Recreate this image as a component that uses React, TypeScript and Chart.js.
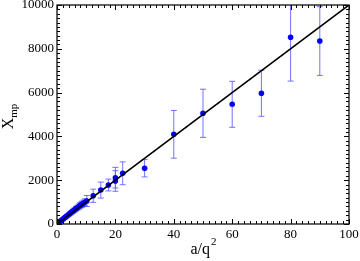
import React, { useEffect, useRef } from "react";
import { Chart, registerables } from "chart.js";

Chart.register(...registerables);

// a/q^2 values
const xValues = [0.5, 1, 1.5, 2, 2.5, 3, 3.5, 4, 4.5, 5, 5.5, 6, 6.5, 7, 7.5, 8, 8.5, 9, 9.5, 10.2, 12.4, 15, 17.6, 20, 20, 22.5, 30, 40, 50, 60, 70, 80, 90];
// X_mp values
const yValues = [55, 110, 165, 220, 270, 325, 380, 430, 485, 540, 590, 640, 700, 745, 800, 850, 895, 940, 990, 1050, 1290, 1550, 1780, 2115, 1965, 2315, 2545, 4095, 5055, 5465, 5970, 8525, 8355];
// error bar half-widths
const yErrors = [12, 22, 30, 38, 45, 52, 60, 68, 75, 85, 90, 100, 105, 110, 120, 130, 140, 150, 160, 250, 300, 365, 270, 470, 470, 520, 395, 1090, 1100, 1050, 1050, 2000, 1570];
// fitted line endpoints
const lineX = [0, 100];
const lineY = [0, 10000];

const xTickLabels = ["0", "20", "40", "60", "80", "100"];
const yTickLabels = ["0", "2000", "4000", "6000", "8000", "10000"];

const FONT = "'Liberation Serif', 'DejaVu Serif', serif";

const errorBarPlugin = {
  id: "errorBars",
  beforeDatasetsDraw(chart: any) {
    const { ctx, scales, chartArea } = chart;
    const xs = scales.x;
    const ys = scales.y;
    ctx.save();
    ctx.beginPath();
    ctx.rect(chartArea.left, chartArea.top, chartArea.right - chartArea.left, chartArea.bottom - chartArea.top);
    ctx.clip();
    ctx.strokeStyle = "rgba(90,90,255,0.85)";
    ctx.lineWidth = 1;
    for (let i = 0; i < xValues.length; i++) {
      const px = xs.getPixelForValue(xValues[i]);
      const top = ys.getPixelForValue(yValues[i] + yErrors[i]);
      const bot = ys.getPixelForValue(yValues[i] - yErrors[i]);
      ctx.beginPath();
      ctx.moveTo(px, top);
      ctx.lineTo(px, bot);
      ctx.moveTo(px - 3, top);
      ctx.lineTo(px + 3, top);
      ctx.moveTo(px - 3, bot);
      ctx.lineTo(px + 3, bot);
      ctx.stroke();
    }
    ctx.restore();
  },
};

const framePlugin = {
  id: "frame",
  afterDraw(chart: any) {
    const { ctx, scales, chartArea } = chart;
    const xs = scales.x;
    const ys = scales.y;
    const { left, right, top, bottom } = chartArea;
    ctx.save();
    ctx.strokeStyle = "#000";
    ctx.lineWidth = 1;
    for (let v = 0; v <= 100; v += 2) {
      const px = Math.round(xs.getPixelForValue(v)) + 0.5;
      const len = v % 20 === 0 ? 5 : 3;
      ctx.beginPath();
      ctx.moveTo(px, bottom);
      ctx.lineTo(px, bottom - len);
      ctx.moveTo(px, top);
      ctx.lineTo(px, top + len);
      ctx.stroke();
    }
    for (let v = 0; v <= 10000; v += 200) {
      const py = Math.round(ys.getPixelForValue(v)) + 0.5;
      const len = v % 2000 === 0 ? 5 : 3;
      ctx.beginPath();
      ctx.moveTo(left, py);
      ctx.lineTo(left + len, py);
      ctx.moveTo(right, py);
      ctx.lineTo(right - len, py);
      ctx.stroke();
    }
    ctx.lineWidth = 1.3;
    ctx.strokeStyle = "#111";
    ctx.strokeRect(left, top, right - left, bottom - top);

    ctx.fillStyle = "#000";
    ctx.textBaseline = "alphabetic";
    ctx.font = `16px ${FONT}`;
    const main = "a/q";
    const wMain = ctx.measureText(main).width;
    ctx.font = `11px ${FONT}`;
    const wSup = ctx.measureText("2").width;
    const cx = (left + right) / 2;
    const startX = cx - (wMain + wSup) / 2;
    ctx.font = `16px ${FONT}`;
    ctx.textAlign = "left";
    ctx.fillText(main, startX, 254);
    ctx.font = `11px ${FONT}`;
    ctx.fillText("2", startX + wMain + 1, 245);

    ctx.save();
    ctx.translate(13, (top + bottom) / 2 + 2);
    ctx.rotate(-Math.PI / 2);
    ctx.font = `16px ${FONT}`;
    const wX = ctx.measureText("X").width;
    ctx.font = `11px ${FONT}`;
    const wMp = ctx.measureText("mp").width;
    const sx = -(wX + wMp) / 2;
    ctx.font = `16px ${FONT}`;
    ctx.fillText("X", sx, 0);
    ctx.font = `11px ${FONT}`;
    ctx.fillText("mp", sx + wX, 4);
    ctx.restore();
    ctx.restore();
  },
};

export default function App() {
  const canvasRef = useRef<HTMLCanvasElement | null>(null);

  useEffect(() => {
    if (!canvasRef.current) return;
    const chart = new Chart(canvasRef.current, {
      type: "scatter",
      data: {
        datasets: [
          {
            type: "line",
            data: lineX.map((x, i) => ({ x, y: lineY[i] })),
            borderColor: "#000",
            borderWidth: 1.6,
            pointRadius: 0,
            fill: false,
          } as any,
          {
            data: xValues.map((x, i) => ({ x, y: yValues[i] })),
            backgroundColor: "#0000ff",
            borderColor: "#0000ff",
            pointRadius: 2.8,
            borderWidth: 0,
          },
        ],
      },
      options: {
        animation: false,
        responsive: true,
        maintainAspectRatio: false,
        layout: { padding: { top: 5, right: 11, left: 0, bottom: 0 } },
        plugins: { legend: { display: false }, tooltip: { enabled: false } },
        scales: {
          x: {
            type: "linear",
            min: 0,
            max: 100,
            grid: { display: false, drawTicks: false },
            border: { display: false },
            ticks: {
              stepSize: 20,
              padding: 3,
              color: "#000",
              font: { family: FONT, size: 13 },
              maxRotation: 0,
              callback: (v: any) => {
                const idx = Math.round(Number(v) / 20);
                return xTickLabels[idx] ?? "";
              },
            },
            afterFit: (s: any) => {
              s.height = 37;
              s.paddingLeft = 0;
              s.paddingRight = 0;
            },
          },
          y: {
            type: "linear",
            min: 0,
            max: 10000,
            grid: { display: false, drawTicks: false },
            border: { display: false },
            ticks: {
              stepSize: 2000,
              padding: 3,
              color: "#000",
              font: { family: FONT, size: 13 },
              callback: (v: any) => {
                const idx = Math.round(Number(v) / 2000);
                return yTickLabels[idx] ?? "";
              },
            },
            afterFit: (s: any) => {
              s.width = 57;
              s.paddingTop = 0;
              s.paddingBottom = 0;
            },
          },
        },
      } as any,
      plugins: [errorBarPlugin, framePlugin],
    });
    return () => chart.destroy();
  }, []);

  return (
    <div style={{ position: "fixed", left: 0, top: 0, width: 360, height: 261, background: "#fff" }}>
      <canvas ref={canvasRef} />
    </div>
  );
}
